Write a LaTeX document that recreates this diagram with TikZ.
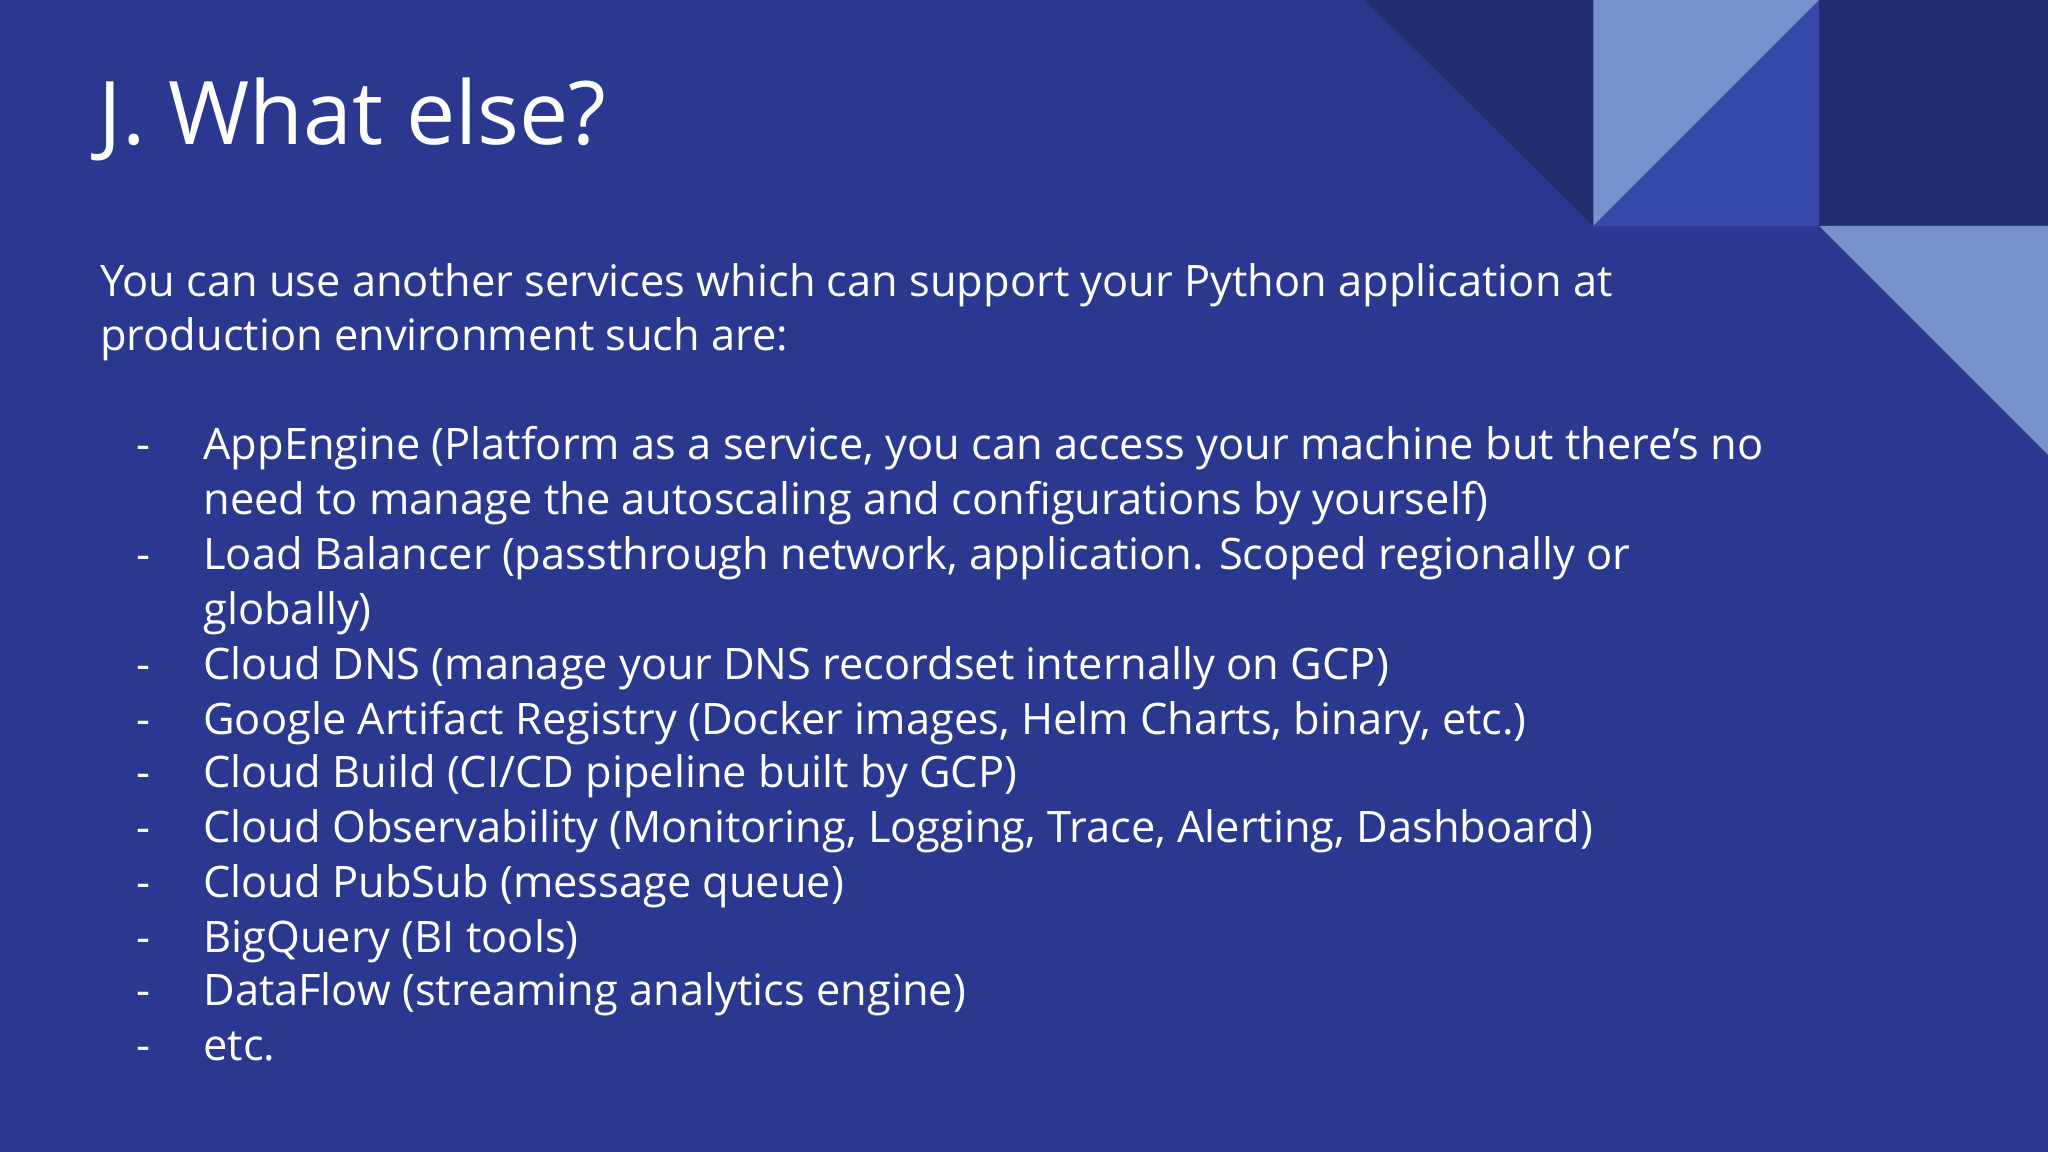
\documentclass[tikz,border=0pt]{standalone}
\usepackage{fontspec}
\setmainfont{Open Sans}
\definecolor{bg}{RGB}{42,57,143}
\definecolor{dk}{RGB}{35,46,112}
\definecolor{lt}{RGB}{120,144,204}
\definecolor{md}{RGB}{57,73,170}
\tikzset{ln/.style={anchor=base west,inner sep=0pt,text=white,font=\fontsize{9.45}{11}\selectfont},
 dsh/.style={anchor=base west,inner sep=0pt,text=white,font=\fontsize{9.45}{11}\selectfont}}
\begin{document}
\begin{tikzpicture}[x=0.01cm,y=-0.01cm]
\fill[bg] (0,0) rectangle (1568,882);
\useasboundingbox (0,0) rectangle (1568,882);
\fill[dk] (1045,0) -- (1220,0) -- (1220,173) -- cycle;
\fill[lt] (1220,0) -- (1393,0) -- (1220,173) -- cycle;
\fill[md] (1393,0) -- (1393,173) -- (1220,173) -- cycle;
\fill[dk] (1393,0) rectangle (1568,173);
\fill[lt] (1393,173) -- (1568,173) -- (1568,348) -- cycle;
\node[anchor=base west,inner sep=0pt,text=white,font=\fontsize{19.1}{22}\selectfont] (t) at (75,111) {J. What else?};
\node[ln] (p1) at (76,227) {You can use another services which can support your Python application at};
\node[ln] (p2) at (76,268) {production environment such are:};
\foreach \y/\txt/\d in {352/{AppEngine (Platform as a service, you can access your machine but there’s no}/1,
 394/{need to manage the autoscaling and configurations by yourself)}/0,
 436/{Load Balancer (passthrough network, application. Scoped regionally or}/1,
 478/{globally)}/0,
 520/{Cloud DNS (manage your DNS recordset internally on GCP)}/1,
 562/{Google Artifact Registry (Docker images, Helm Charts, binary, etc.)}/1,
 603/{Cloud Build (CI/CD pipeline built by GCP)}/1,
 645/{Cloud Observability (Monitoring, Logging, Trace, Alerting, Dashboard)}/1,
 687/{Cloud PubSub (message queue)}/1,
 729/{BigQuery (BI tools)}/1,
 770/{DataFlow (streaming analytics engine)}/1,
 812/{etc.}/1}{
 \node[ln] (l\y) at (155,\y) {\txt};
 \ifnum\d=1 \node[dsh] (d\y) at (104,\y) {-};\fi
}
\end{tikzpicture}
\end{document}
